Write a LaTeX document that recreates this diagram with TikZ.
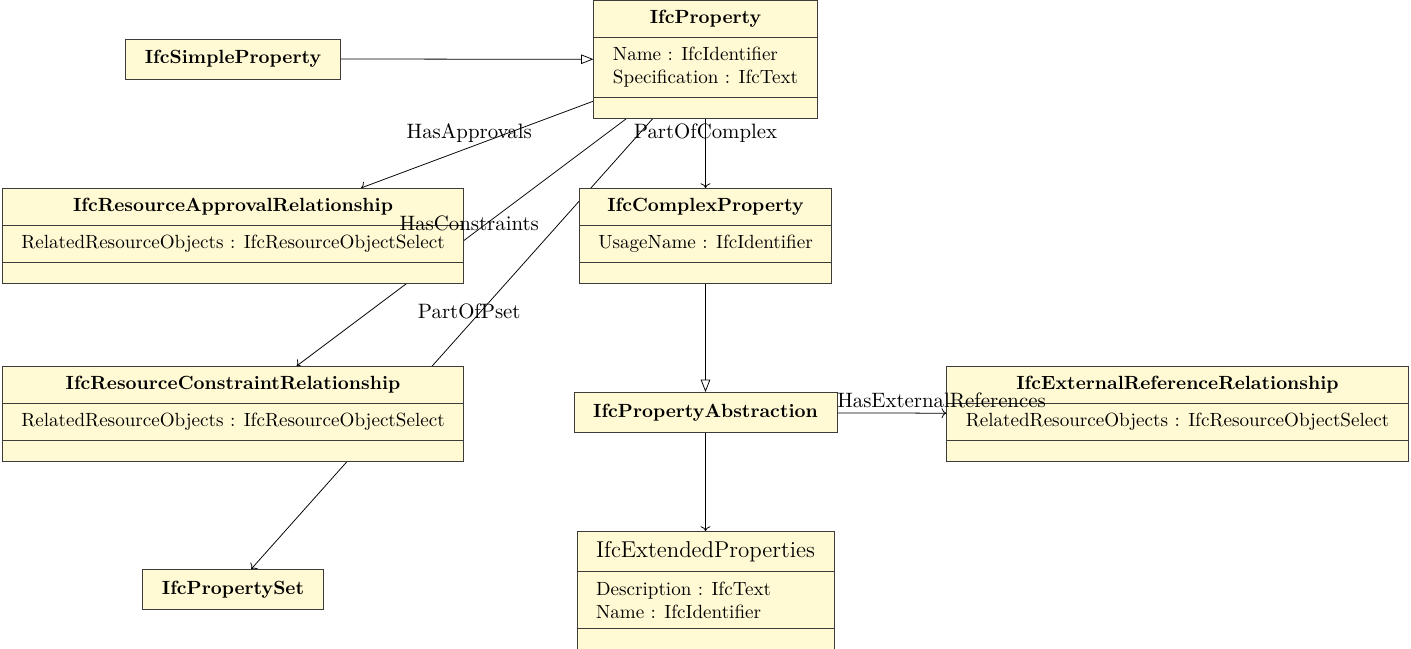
\documentclass[tikz,border=0pt]{standalone}
\usepackage{tikz}
\usetikzlibrary{arrows.meta,shapes.multipart,backgrounds}
\definecolor{classfill}{RGB}{255,250,212}
\definecolor{classline}{RGB}{60,60,60}
\newcommand{\noattr}{\hbox to 0.1pt{\rule{0pt}{0.5pt}\hss}}

\begin{document}
\begin{tikzpicture}[x=0.5236pt,y=-0.5236pt,
  cls/.style={draw=classline,fill=classfill,rectangle split,rectangle split parts=3,rectangle split part align={center,left,left},align=left,inner xsep=10pt,inner ysep=5pt,anchor=north},
  box/.style={draw=classline,fill=classfill,inner xsep=10pt,inner ysep=5pt,minimum height=21pt,font=\bfseries},
  lab/.style={above,inner sep=2.5pt,font=\fontsize{10.9}{13}\selectfont},gen/.style={-{Triangle[open,length=6.5pt,width=5pt]}}]
\useasboundingbox (0,0) rectangle (1411,649);
\node[cls] (prop) at (705.5,0) {\textbf{IfcProperty}\nodepart{second}Name : IfcIdentifier\\Specification : IfcText\nodepart{third}\noattr};
\node[box] (simp) at (233,59) {IfcSimpleProperty};
\node[cls] (appr) at (233,188) {\textbf{IfcResourceApprovalRelationship}\nodepart{second}RelatedResourceObjects : IfcResourceObjectSelect\nodepart{third}\noattr};
\node[cls] (cplx) at (705.5,188) {\textbf{IfcComplexProperty}\nodepart{second}UsageName : IfcIdentifier\nodepart{third}\noattr};
\node[cls] (cons) at (233,366) {\textbf{IfcResourceConstraintRelationship}\nodepart{second}RelatedResourceObjects : IfcResourceObjectSelect\nodepart{third}\noattr};
\node[box] (abst) at (705.5,412.5) {IfcPropertyAbstraction};
\node[cls] (extr) at (1177.5,366) {\textbf{IfcExternalReferenceRelationship}\nodepart{second}RelatedResourceObjects : IfcResourceObjectSelect\nodepart{third}\noattr};
\node[cls] (extp) at (705.5,531) {{\large IfcExtendedProperties}\nodepart{second}Description : IfcText\\Name : IfcIdentifier\nodepart{third}\noattr};
\node[box] (pset) at (233,589.5) {IfcPropertySet};
\begin{scope}[on background layer]
\draw[gen] (simp) -- (prop); \draw[gen] (cplx) -- (abst);
\draw[->] (prop) -- (appr); \draw[->] (prop) -- (cons); \draw[->] (prop) -- (cplx); \draw[->] (prop) -- (pset);
\draw[->] (abst) -- (extr); \draw[->] (abst) -- (extp);
\end{scope}
\path (prop.center) -- node[lab]{HasApprovals} (appr.center);
\path (prop.center) -- node[lab]{HasConstraints} (cons.center);
\path (prop.center) -- node[lab]{PartOfComplex} (cplx.center);
\path (prop.center) -- node[lab]{PartOfPset} (pset.center);
\path (abst.center) -- node[lab]{HasExternalReferences} (extr.center);
\end{tikzpicture}
\end{document}
